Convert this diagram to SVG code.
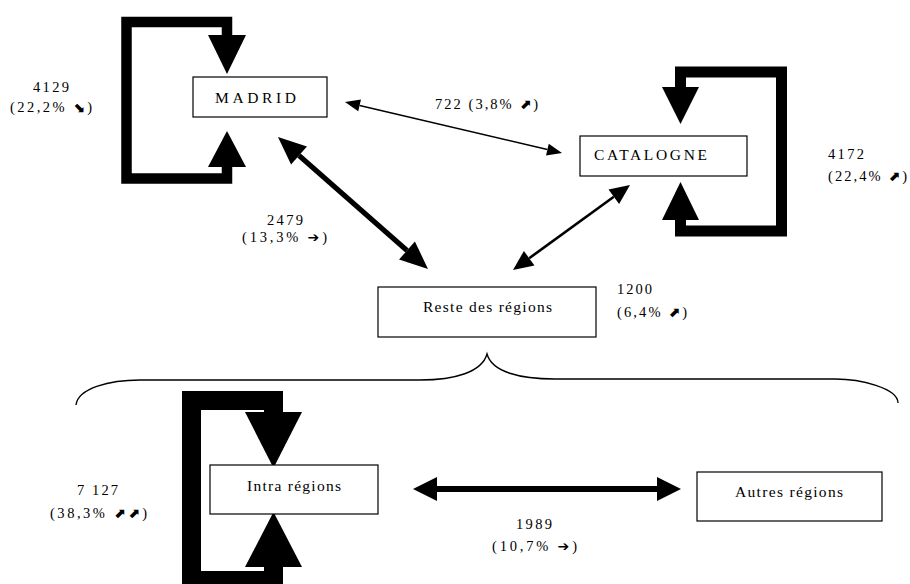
<svg xmlns="http://www.w3.org/2000/svg" width="910" height="584" viewBox="0 0 910 584">
<defs>
<style>
.box{fill:#fff;stroke:#000;stroke-width:1.2}
.lbl{font-family:"Liberation Serif","Times New Roman",serif;font-size:14.5px;fill:#000}
.nt{font-family:"Liberation Serif","Times New Roman",serif;font-size:15.5px;fill:#000}
.ar{font-family:"DejaVu Sans",sans-serif;font-weight:bold;font-size:14px}
.loop{fill:none;stroke:#000;stroke-linejoin:miter;stroke-linecap:butt}
.head{fill:#000}
.conn{stroke:#000;fill:none}
.brace{fill:none;stroke:#000;stroke-width:1.4}
</style>
<marker id="mA" markerUnits="userSpaceOnUse" markerWidth="16" markerHeight="12" refX="0" refY="6" orient="auto-start-reverse" overflow="visible"><path d="M0,0 L15,6 L0,12 z" fill="#000"/></marker>
<marker id="mB" markerUnits="userSpaceOnUse" markerWidth="21" markerHeight="18" refX="0" refY="9" orient="auto-start-reverse" overflow="visible"><path d="M0,0 L20,9 L0,18 z" fill="#000"/></marker>
<marker id="mC" markerUnits="userSpaceOnUse" markerWidth="29" markerHeight="24" refX="0" refY="12" orient="auto-start-reverse" overflow="visible"><path d="M0,0 L28,12 L0,24 z" fill="#000"/></marker>
<marker id="mD" markerUnits="userSpaceOnUse" markerWidth="25" markerHeight="24" refX="0" refY="12" orient="auto-start-reverse" overflow="visible"><path d="M0,0 L24,12 L0,24 z" fill="#000"/></marker>
</defs>
<rect width="910" height="584" fill="#fff"/>

<g id="connectors">
<line class="conn" x1="359.6" y1="105.43" x2="547.4" y2="149.57" stroke-width="1.5" marker-start="url(#mA)" marker-end="url(#mA)"/>
<line class="conn" x1="299" y1="155.5" x2="406.98" y2="250.5" stroke-width="5" marker-start="url(#mC)" marker-end="url(#mC)"/>
<line class="conn" x1="613.82" y1="196.76" x2="529.18" y2="258.24" stroke-width="2.6" marker-start="url(#mB)" marker-end="url(#mB)"/>
<line class="conn" x1="437" y1="489" x2="657" y2="489" stroke-width="6" marker-start="url(#mD)" marker-end="url(#mD)"/>
<path class="brace" d="M76,405 C78,388 110,380 140,380 H420 C455,380 482,372 487,354 C492,372 520,379 555,379 H835 C860,379 898,388 898,403"/>
</g>

<g id="madrid-loop">
<path class="loop" stroke-width="10.5" d="M227,36 V22 H126.5 V178.5 H227 V166"/>
<polygon class="head" points="208,35 246,35 227,74"/>
<polygon class="head" points="208,167 246,167 227,131"/>
</g>
<g id="catalogne-loop">
<path class="loop" stroke-width="11" d="M680.5,88 V72 H781.5 V231 H680.5 V219"/>
<polygon class="head" points="662,87 699,87 680.5,124"/>
<polygon class="head" points="662,220 699,220 680.5,182"/>
</g>
<g id="intra-loop">
<path class="loop" stroke-width="19" d="M273.5,413 V400.5 H191.5 V580.5 H273.5 V566"/>
<polygon class="head" points="245,412 302,412 273.5,468"/>
<polygon class="head" points="245,567 302,567 273.5,512"/>
</g>

<g id="madrid">
<rect class="box" x="193" y="77" width="134" height="40"/>
<text class="nt" x="215" y="103" textLength="81" lengthAdjust="spacing">MADRID</text>
</g>
<g id="catalogne">
<rect class="box" x="580" y="136" width="167" height="40"/>
<text class="nt" x="594" y="160" textLength="113" lengthAdjust="spacing">CATALOGNE</text>
</g>
<g id="reste">
<rect class="box" x="378" y="287" width="218" height="50"/>
<text class="nt" x="423" y="312" textLength="129" lengthAdjust="spacing">Reste des régions</text>
</g>
<g id="intra">
<rect class="box" x="210" y="465" width="168" height="49"/>
<text class="nt" x="247" y="491" textLength="94" lengthAdjust="spacing">Intra régions</text>
</g>
<g id="autres">
<rect class="box" x="697" y="472" width="185" height="49"/>
<text class="nt" x="735" y="497" textLength="108" lengthAdjust="spacing">Autres régions</text>
</g>

<g id="labels">
<text class="lbl" x="33" y="92" textLength="36" lengthAdjust="spacing">4129</text>
<text class="lbl" x="10" y="112" textLength="82" lengthAdjust="spacing">(22,2% <tspan class="ar">⬊</tspan>)</text>
<text class="lbl" x="435" y="109" textLength="103" lengthAdjust="spacing">722 (3,8% <tspan class="ar">⬈</tspan>)</text>
<text class="lbl" x="828" y="159" textLength="36" lengthAdjust="spacing">4172</text>
<text class="lbl" x="828" y="181" textLength="79" lengthAdjust="spacing">(22,4% <tspan class="ar">⬈</tspan>)</text>
<text class="lbl" x="267" y="225" textLength="36" lengthAdjust="spacing">2479</text>
<text class="lbl" x="242" y="242" textLength="85" lengthAdjust="spacing">(13,3% <tspan class="ar">➔</tspan>)</text>
<text class="lbl" x="617" y="294" textLength="35" lengthAdjust="spacing">1200</text>
<text class="lbl" x="617" y="317" textLength="70" lengthAdjust="spacing">(6,4% <tspan class="ar">⬈</tspan>)</text>
<text class="lbl" x="77" y="495" textLength="41" lengthAdjust="spacing">7 127</text>
<text class="lbl" x="50" y="518" textLength="97" lengthAdjust="spacing">(38,3% <tspan class="ar">⬈⬈</tspan>)</text>
<text class="lbl" x="516" y="529" textLength="36" lengthAdjust="spacing">1989</text>
<text class="lbl" x="492" y="551" textLength="85" lengthAdjust="spacing">(10,7% <tspan class="ar">➔</tspan>)</text>
</g>
</svg>
